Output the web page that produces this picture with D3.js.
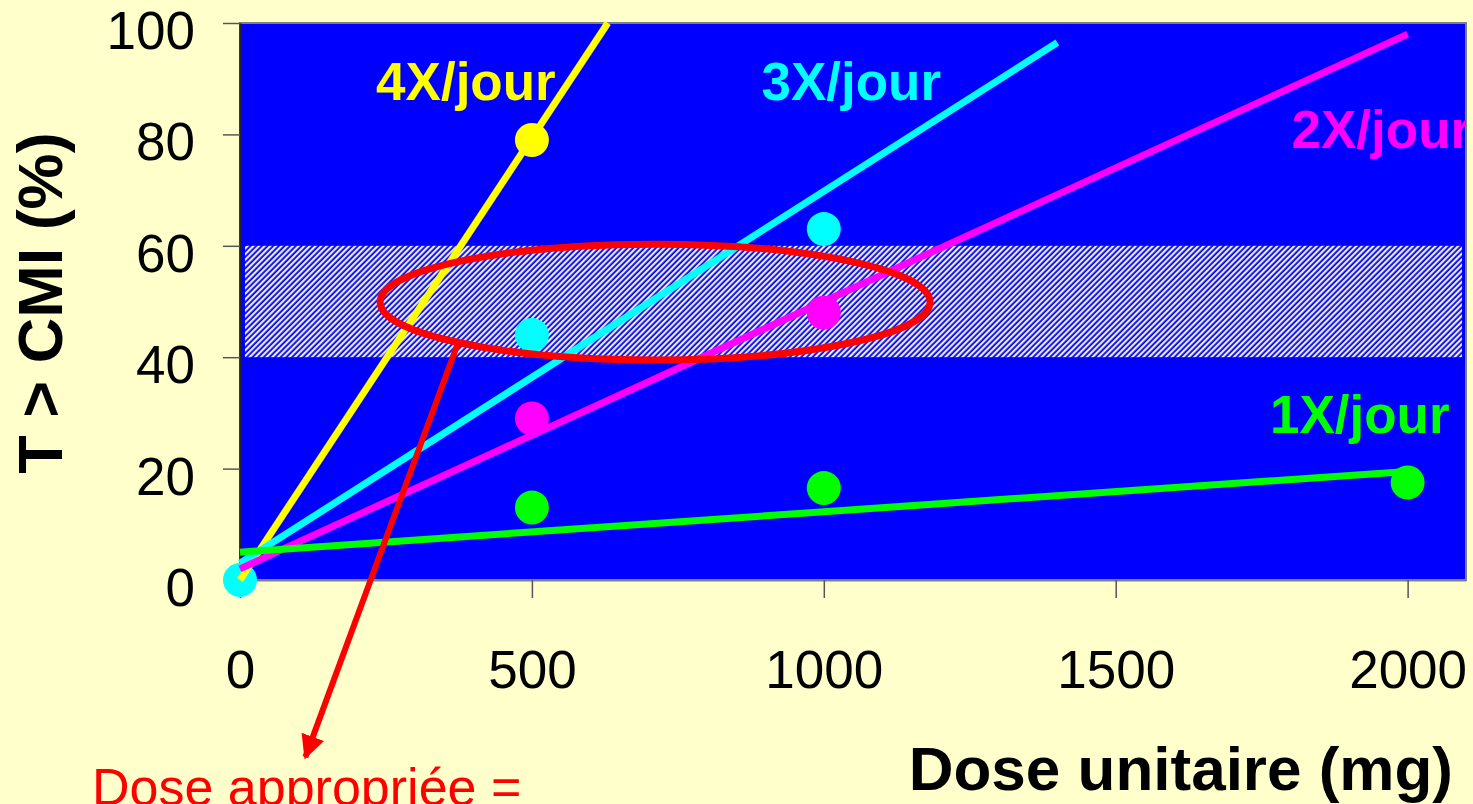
<!DOCTYPE html>
<html>
<head>
<meta charset="utf-8">
<script src="https://cdn.jsdelivr.net/npm/d3@7"></script>
<style>
  html, body { margin: 0; padding: 0; background: #FFFFCC; }
  svg { display: block; }
  text { font-family: "Liberation Sans", Arial, sans-serif; }
</style>
</head>
<body>
<svg id="chart" width="1473" height="804"></svg>
<script>
// ---------- data ----------
const xTicks = [0, 500, 1000, 1500, 2000];
const yTicks = [0, 20, 40, 60, 80, 100];
const xTitle = "Dose unitaire (mg)";
const yTitle = "T > CMI (%)";

const seriesNames = ["4X/jour", "3X/jour", "2X/jour", "1X/jour"];
const seriesColors = ["#FFFF00", "#00FFFF", "#FF00FF", "#00FF00"];
// observed points [dose, %]
const points4x = [[500, 79]];
const points3x = [[0, 0], [500, 44], [1000, 63]];
const points2x = [[500, 29], [1000, 48]];
const points1x = [[500, 13], [1000, 16.5], [2000, 17.5]];
// trend lines [dose, %]
const trend4x = [[0, 0], [630, 100]];
const trend3x = [[0, 3], [1400, 96.5]];
const trend2x = [[0, 2], [2000, 98]];
const trend1x = [[0, 5], [2000, 19.5]];
// label anchor points [dose, %]
const labelAnchors = [[387, 86.2], [1047, 86.2], [1955, 77.6], [1918, 26.4]];

// target band (%)
const bandLow = 40, bandHigh = 60;
// annotation: ellipse [centre dose, centre %, half width dose, half height %]
const ellipseSpec = [711, 49.9, 471, 10.4];
// arrow [from dose, from %, to dose, to %]
const arrowSpec = [375, 43.0, 112, -31.8];
const annotationText = "Dose appropriée =";

(function () {
// ---------- layout ----------
const svg = d3.select("#chart");
const W = 1473, H = 804;
const pLeft = 240, pRight = 1466, pTop = 23, pBottom = 580;

svg.append("rect").attr("width", W).attr("height", H).attr("fill", "#FFFFCC");

const x = d3.scaleLinear().domain([0, 2100]).range([pLeft, pRight]);
const y = d3.scaleLinear().domain([0, 100]).range([pBottom, pTop]);

const defs = svg.append("defs");
const pat = defs.append("pattern")
  .attr("id", "hatch").attr("patternUnits", "userSpaceOnUse")
  .attr("width", 4).attr("height", 4)
  .attr("patternTransform", "rotate(45)");
pat.append("rect").attr("width", 4).attr("height", 4).attr("fill", "#0000FF");
pat.append("rect").attr("width", 2.2).attr("height", 4).attr("fill", "#ECECEC");

defs.append("clipPath").attr("id", "plotclip")
  .append("rect").attr("x", pLeft).attr("y", pTop)
  .attr("width", pRight - pLeft).attr("height", pBottom - pTop);

// plot background
svg.append("rect")
  .attr("x", pLeft).attr("y", pTop)
  .attr("width", pRight - pLeft).attr("height", pBottom - pTop)
  .attr("fill", "#0000FF")
  .attr("stroke", "#808080").attr("stroke-width", 2);

// hatched band
svg.append("rect")
  .attr("x", pLeft + 5).attr("y", y(bandHigh))
  .attr("width", pRight - pLeft - 9).attr("height", y(bandLow) - y(bandHigh))
  .attr("fill", "url(#hatch)");

// axes
const fmt = d3.format("d");
const yAxis = d3.axisLeft(y).tickValues(yTicks).tickFormat(fmt)
  .tickSize(17).tickSizeOuter(0).tickPadding(28);
const gy = svg.append("g").attr("transform", `translate(${pLeft},0)`).call(yAxis);
gy.selectAll("text").attr("font-size", 53).attr("fill", "#000").attr("dy", "0.48em")
  .attr("font-family", "Liberation Sans, Arial, sans-serif");
gy.selectAll("line").attr("stroke", "#555").attr("stroke-width", 1.5);
gy.select(".domain").attr("stroke", "#222").attr("stroke-width", 2.5);

const xAxis = d3.axisBottom(x).tickValues(xTicks).tickFormat(fmt)
  .tickSize(18).tickSizeOuter(0).tickPadding(52);
const gx = svg.append("g").attr("transform", `translate(0,${pBottom})`).call(xAxis);
gx.selectAll("text").attr("font-size", 53).attr("fill", "#000")
  .attr("font-family", "Liberation Sans, Arial, sans-serif");
gx.selectAll("line").attr("stroke", "#555").attr("stroke-width", 1.5);
gx.select(".domain").attr("stroke", "#808080").attr("stroke-width", 2);

// series
const allPoints = [points4x, points3x, points2x, points1x];
const allTrends = [trend4x, trend3x, trend2x, trend1x];
const line = d3.line().x(d => x(d[0])).y(d => y(d[1]));

const gDotsBack = svg.append("g");
const gLines = svg.append("g");
const gDots = svg.append("g");

allPoints.forEach((pts, i) => {
  pts.forEach(p => {
    const target = p[0] === 0 ? gDotsBack : gDots;
    target.append("circle")
      .attr("cx", x(p[0])).attr("cy", y(p[1])).attr("r", 17)
      .attr("fill", seriesColors[i]);
  });
});
allTrends.forEach((t, i) => {
  gLines.append("path").attr("d", line(t))
    .attr("fill", "none").attr("stroke", seriesColors[i])
    .attr("stroke-width", 7);
});

// series labels
const gLab = svg.append("g").attr("clip-path", "url(#plotclip)");
seriesNames.forEach((name, i) => {
  gLab.append("text")
    .attr("x", x(labelAnchors[i][0])).attr("y", y(labelAnchors[i][1]))
    .attr("text-anchor", "middle")
    .attr("font-size", 53).attr("font-weight", "bold")
    .attr("fill", seriesColors[i]).text(name);
});

// ellipse annotation
const [ecx, ecy, erx, ery] = ellipseSpec;
svg.append("ellipse")
  .attr("cx", x(ecx)).attr("cy", y(ecy))
  .attr("rx", x(ecx + erx) - x(ecx)).attr("ry", y(ecy) - y(ecy + ery))
  .attr("fill", "none").attr("stroke", "#FF0000").attr("stroke-width", 7);

// arrow
defs.append("marker").attr("id", "arrowhead")
  .attr("viewBox", "0 0 10 10").attr("refX", 9).attr("refY", 5)
  .attr("markerWidth", 4).attr("markerHeight", 4)
  .attr("markerUnits", "strokeWidth")
  .attr("orient", "auto")
  .append("path").attr("d", "M0,0 L10,5 L0,10 z").attr("fill", "#FF0000");
svg.append("line")
  .attr("x1", x(arrowSpec[0])).attr("y1", y(arrowSpec[1]))
  .attr("x2", x(arrowSpec[2])).attr("y2", y(arrowSpec[3]))
  .attr("stroke", "#FF0000").attr("stroke-width", 6)
  .attr("marker-end", "url(#arrowhead)");

svg.append("text")
  .attr("x", 92).attr("y", 805)
  .attr("text-anchor", "start")
  .attr("font-size", 52).attr("fill", "#FF0000")
  .text(annotationText);

// axis titles
svg.append("text")
  .attr("x", 1453).attr("y", 790)
  .attr("text-anchor", "end")
  .attr("font-size", 62).attr("font-weight", "bold").attr("fill", "#000")
  .text(xTitle);

svg.append("text")
  .attr("transform", "translate(62,303) rotate(-90)")
  .attr("text-anchor", "middle")
  .attr("font-size", 63).attr("font-weight", "bold").attr("fill", "#000")
  .text(yTitle);
})();
</script>
</body>
</html>
